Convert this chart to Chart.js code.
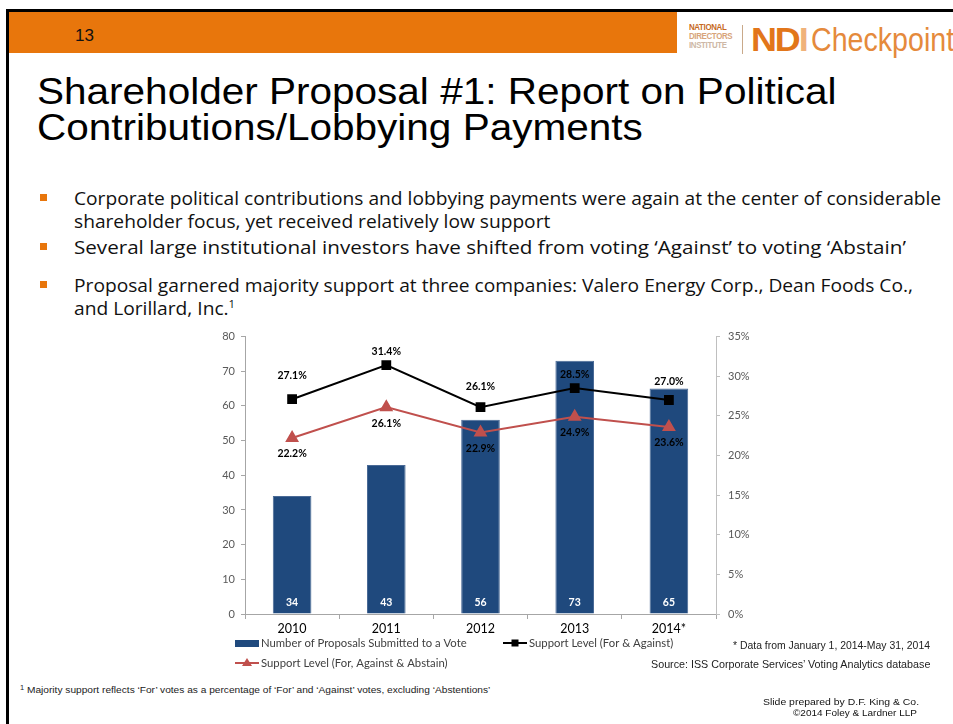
<!DOCTYPE html>
<html>
<head>
<meta charset="utf-8">
<script src="https://cdn.jsdelivr.net/npm/chart.js@4/dist/chart.umd.min.js"></script>
<style>
  html, body { margin: 0; padding: 0; background: #fff; }
  body { width: 953px; height: 724px; position: relative; overflow: hidden; font-family: "Liberation Sans", Arial, sans-serif; }
  .abs { position: absolute; white-space: nowrap; transform-origin: 0 0; }
  #frameTop { left: 6px; top: 9px; width: 947px; height: 3px; background: #000; }
  #frameLeft { left: 6px; top: 9px; width: 3px; height: 715px; background: #000; }
  #band { left: 9px; top: 12px; width: 668px; height: 41px; background: #E8760C; }
  #pageNo { left: 75px; top: 26px; font-family: "Liberation Sans", sans-serif; font-size: 17px; color: #111; }
  #title { left: 37px; top: 74px; font-family: "Liberation Sans", Arial, sans-serif; font-size: 36px; line-height: 36px; color: #000; }
  .bullet { position: absolute; left: 40px; width: 7px; height: 7px; background: #E8760C; }
  .btext { left: 74px; font-family: "Open Sans", sans-serif; font-size: 18.5px; color: #111; line-height: 23px; }
  sup { font-size: 11px; vertical-align: 7px; line-height: 0; }
  #logoSmall { left: 689px; top: 23px; font-family: "Liberation Sans", sans-serif; font-weight: bold; font-size: 9px; line-height: 9px; letter-spacing: -0.4px; }
  #logoSep { left: 742px; top: 25px; width: 1px; height: 29px; background: #C9A98A; }
  #logoNd { left: 751px; top: 20px; font-family: "Liberation Sans", sans-serif; font-size: 34px; font-weight: bold; color: #E2761A; letter-spacing: -2px; }
  #logoCheck { left: 811px; top: 20px; font-family: "Liberation Sans", sans-serif; font-size: 34px; color: #E58A3C; }
  .note { font-family: "Liberation Sans", Arial, sans-serif; color: #222; }
  #chartBox { position: absolute; left: 190px; top: 322px; width: 570px; height: 360px; }
</style>
</head>
<body>
<div class="abs" id="frameTop"></div>
<div class="abs" id="frameLeft"></div>
<div class="abs" id="band"></div>
<div class="abs" id="pageNo">13</div>

<div class="abs" id="logoSmall" data-w="43"><span style="color:#C76A1E">NATIONAL</span><br><span style="color:#D8A47A">DIRECTORS</span><br><span style="color:#CDB8A6">INSTITUTE</span></div>
<div class="abs" id="logoSep"></div>
<div class="abs" id="logoNd" data-w="56">ND<span style="color:#F0B27A">I</span></div>
<div class="abs" id="logoCheck" data-w="143">Checkpoint</div>

<div class="abs" id="title" data-w="799">Shareholder Proposal #1: Report on Political<br>Contributions/Lobbying Payments</div>

<div class="bullet" style="top:194px"></div>
<div class="abs btext" style="top:186px" data-w="867">Corporate political contributions and lobbying payments were again at the center of considerable<br>shareholder focus, yet received relatively low support</div>
<div class="bullet" style="top:243px"></div>
<div class="abs btext" style="top:235px" data-w="832">Several large institutional investors have shifted from voting ‘Against’ to voting ‘Abstain’</div>
<div class="bullet" style="top:281px"></div>
<div class="abs btext" style="top:273px" data-w="839">Proposal garnered majority support at three companies: Valero Energy Corp., Dean Foods Co.,<br>and Lorillard, Inc.<sup>1</sup></div>

<div id="chartBox"><canvas id="chart" width="570" height="360"></canvas></div>

<div class="abs note" style="left:733px; top:640px; font-size:10px;" data-w="197">* Data from January 1, 2014-May 31, 2014</div>
<div class="abs note" style="left:651px; top:658px; font-size:10.5px;" data-w="279">Source: ISS Corporate Services’ Voting Analytics database</div>
<div class="abs note" style="left:20px; top:684px; font-size:9.5px;" data-w="470"><sup style="font-size:7px;vertical-align:3px">1</sup> Majority support reflects ‘For’ votes as a percentage of ‘For’ and ‘Against’ votes, excluding ‘Abstentions’</div>
<div class="abs note" style="left:763px; top:696px; font-size:9.5px; color:#111;" data-w="156">Slide prepared by D.F. King &amp; Co.</div>
<div class="abs note" style="left:793px; top:707px; font-size:9.5px; color:#111;" data-w="124">©2014 Foley &amp; Lardner LLP</div>

<script>
// Yearly figures for the political contributions / lobbying proposal
const years = ['2010', '2011', '2012', '2013', '2014*'];
const proposalsVoted = [34, 43, 56, 73, 65];
const supportForAgainst = [27.1, 31.4, 26.1, 28.5, 27.0];
const supportAllVotes = [22.2, 26.1, 22.9, 24.9, 23.6];

const countTicks = [0, 10, 20, 30, 40, 50, 60, 70, 80];
const percentTicks = [0, 5, 10, 15, 20, 25, 30, 35];

const seriesNames = [
  'Number of Proposals Submitted to a Vote',
  'Support Level (For & Against)',
  'Support Level (For, Against & Abstain)'
];

const BLUE = '#1F497D';
const RED = '#C0504D';
const LABEL_FONT = 'bold 10.5px Lato, "Open Sans", sans-serif';

// Stretch each text block horizontally to its slide width
function fitWidths() {
  document.querySelectorAll('[data-w]').forEach(el => {
    el.style.transform = 'none';
    const w = el.scrollWidth;
    if (w > 0) el.style.transform = 'scaleX(' + (parseFloat(el.dataset.w) / w) + ')';
  });
}
fitWidths();
if (document.fonts && document.fonts.ready) document.fonts.ready.then(fitWidths);

// Value labels: counts inside the bars, percentages above/below the points
const valueLabels = {
  id: 'valueLabels',
  afterDatasetsDraw(chart, args, opts) {
    const ctx = chart.ctx;
    ctx.save();
    ctx.font = LABEL_FONT;
    ctx.textAlign = 'center';
    ctx.textBaseline = 'middle';
    chart.data.datasets.forEach((ds, di) => {
      const meta = chart.getDatasetMeta(di);
      meta.data.forEach((el, i) => {
        const v = ds.data[i];
        if (ds.type === 'bar') {
          ctx.fillStyle = '#fff';
          ctx.fillText(String(v), el.x, el.base - 11);
        } else if (di === 1) {
          ctx.fillStyle = '#000';
          ctx.fillText(v.toFixed(1) + '%', el.x, el.y - opts.aboveGap[i]);
        } else {
          ctx.fillStyle = '#000';
          ctx.fillText(v.toFixed(1) + '%', el.x, el.y + opts.belowGap);
        }
      });
    });
    ctx.restore();
  }
};

// Two-row legend under the category axis
const slideLegend = {
  id: 'slideLegend',
  afterDraw(chart) {
    const ctx = chart.ctx;
    const left = chart.chartArea.left - 10;
    const row1 = chart.chartArea.bottom + 29;
    const row2 = chart.chartArea.bottom + 49;
    ctx.save();
    ctx.font = '11.3px Lato, "Open Sans", sans-serif';
    ctx.textBaseline = 'middle';

    // bars
    ctx.fillStyle = BLUE;
    ctx.fillRect(left, row1 - 3, 24, 7);
    ctx.fillStyle = '#404040';
    ctx.fillText(seriesNames[0], left + 26, row1);

    // black line with square marker
    const x2 = left + 268;
    ctx.strokeStyle = '#000';
    ctx.lineWidth = 2;
    ctx.beginPath(); ctx.moveTo(x2, row1); ctx.lineTo(x2 + 24, row1); ctx.stroke();
    ctx.fillStyle = '#000';
    ctx.fillRect(x2 + 8.5, row1 - 3.5, 7, 7);
    ctx.fillStyle = '#404040';
    ctx.fillText(seriesNames[1], x2 + 26, row1);

    // red line with triangle marker
    ctx.strokeStyle = RED;
    ctx.beginPath(); ctx.moveTo(left, row2); ctx.lineTo(left + 24, row2); ctx.stroke();
    ctx.fillStyle = RED;
    ctx.beginPath(); ctx.moveTo(left + 12, row2 - 5); ctx.lineTo(left + 17, row2 + 3); ctx.lineTo(left + 7, row2 + 3); ctx.closePath(); ctx.fill();
    ctx.fillStyle = '#404040';
    ctx.fillText(seriesNames[2], left + 26, row2);
    ctx.restore();
  }
};

new Chart(document.getElementById('chart'), {
  data: {
    labels: years,
    datasets: [
      {
        type: 'bar',
        label: seriesNames[0],
        data: proposalsVoted,
        yAxisID: 'y',
        backgroundColor: BLUE,
        borderColor: '#4A6A96',
        borderWidth: 1,
        barPercentage: 0.41,
        categoryPercentage: 1,
        order: 3
      },
      {
        type: 'line',
        label: seriesNames[1],
        data: supportForAgainst,
        yAxisID: 'y2',
        borderColor: '#000',
        borderWidth: 2,
        pointStyle: 'rect',
        pointRadius: 5.5,
        pointBackgroundColor: '#000',
        pointBorderColor: '#000',
        tension: 0,
        order: 1
      },
      {
        type: 'line',
        label: seriesNames[2],
        data: supportAllVotes,
        yAxisID: 'y2',
        borderColor: RED,
        borderWidth: 2,
        pointStyle: 'triangle',
        pointRadius: 6,
        pointBackgroundColor: RED,
        pointBorderColor: RED,
        tension: 0,
        order: 2
      }
    ]
  },
  options: {
    responsive: false,
    animation: false,
    layout: { padding: { top: 10, bottom: 46, left: 0, right: 0 } },
    plugins: {
      legend: { display: false },
      tooltip: { enabled: false },
      valueLabels: { aboveGap: [24, 14, 21, 14, 18], belowGap: 16 }
    },
    scales: {
      x: {
        offset: true,
        grid: { offset: true, drawOnChartArea: false, drawTicks: true, tickLength: 5, color: '#A6A6A6' },
        border: { color: '#A6A6A6' },
        ticks: { color: '#000', font: { family: 'Lato, "Open Sans", sans-serif', size: 12.5 }, padding: 2 },
        afterFit(s) { s.height = 22; }
      },
      y: {
        position: 'left',
        min: 0, max: 80,
        afterBuildTicks(s) { s.ticks = countTicks.map(v => ({ value: v })); },
        grid: { drawOnChartArea: false, drawTicks: true, tickLength: 4, color: '#A6A6A6' },
        border: { color: '#A6A6A6' },
        ticks: { color: '#595959', font: { family: 'Lato, "Open Sans", sans-serif', size: 11 }, padding: 6 },
        afterFit(s) { s.width = 55; }
      },
      y2: {
        position: 'right',
        min: 0, max: 35,
        afterBuildTicks(s) { s.ticks = percentTicks.map(v => ({ value: v })); },
        grid: { drawOnChartArea: false, drawTicks: true, tickLength: 4, color: '#BFBFBF' },
        border: { color: '#BFBFBF' },
        ticks: { color: '#595959', font: { family: 'Lato, "Open Sans", sans-serif', size: 11 }, padding: 8, callback: v => v + '%' },
        afterFit(s) { s.width = 44; }
      }
    }
  },
  plugins: [valueLabels, slideLegend]
});
</script>
</body>
</html>
